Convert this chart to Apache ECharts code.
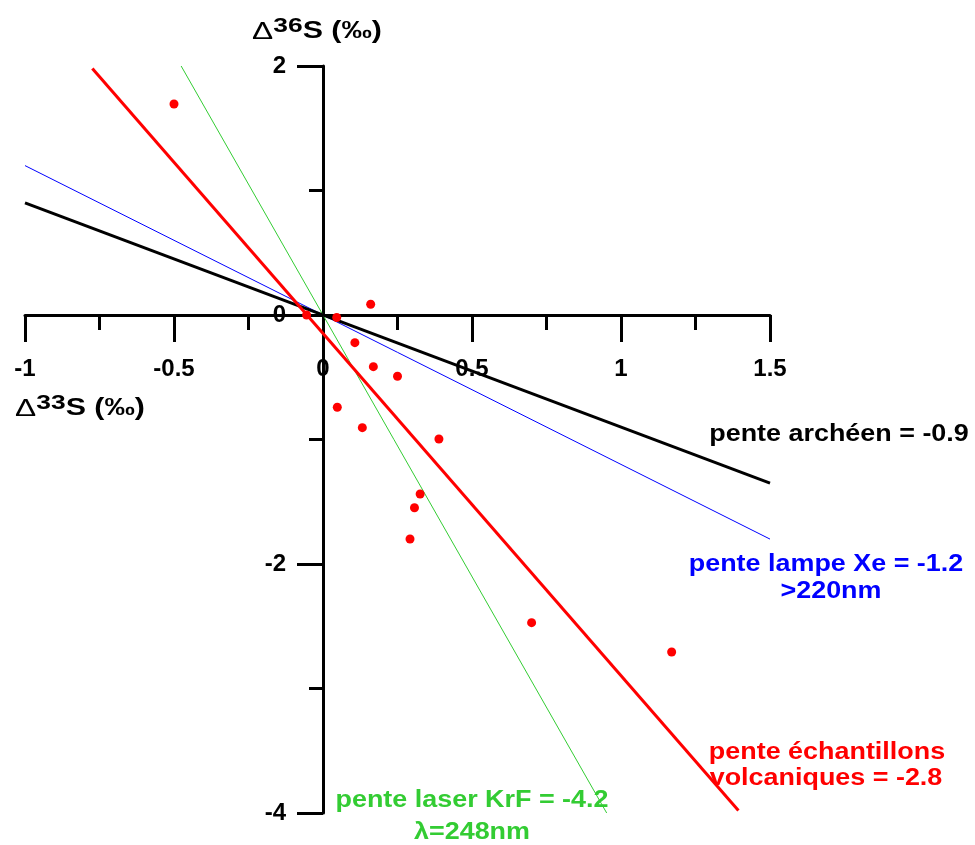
<!DOCTYPE html>
<html>
<head>
<meta charset="utf-8">
<script src="https://cdn.jsdelivr.net/npm/echarts@6/dist/echarts.min.js"></script>
<style>html,body{margin:0;padding:0;background:#fff}#c{width:975px;height:845px}</style>
</head>
<body>
<div id="c"></div>
<script>
// Samples: Δ33S (x) and Δ36S (y), ‰
const sampleD33 = [-0.50, -0.055, 0.046, 0.160, 0.107, 0.169, 0.250, 0.048, 0.132, 0.389, 0.326, 0.307, 0.292, 0.700, 1.170];
const sampleD36 = [1.695, 0.000, -0.020, 0.086, -0.222, -0.415, -0.492, -0.741, -0.905, -0.996, -1.438, -1.548, -1.799, -2.471, -2.707];

// Reference lines (end points)
const lineArchean = [[-1, 0.9], [1.5, -1.35]];
const lineXe = [[-1, 1.2], [1.5, -1.8]];
const lineKrF = [[-0.476, 2], [0.952, -4]];
const lineVolcanic = [[-0.774, 1.98], [1.394, -3.98]];

const xMin = -1, xMax = 1.5, xStep = 0.5;
const yMin = -4, yMax = 2, yStep = 2;

const FONT = 'Liberation Sans';
const W = 975, H = 845;
const G = {left: 25, right: 205, top: 66, bottom: 32};
// put each axis through the other axis' zero
const gridW = W - G.left - G.right, gridH = H - G.top - G.bottom;
const xAxisOffset = -Math.round(gridH * (0 - yMin) / (yMax - yMin));
const yAxisOffset = -Math.round(gridW * (0 - xMin) / (xMax - xMin));

const chart = echarts.init(document.getElementById('c'));

function lineSeries(name, pts, color, width) {
  return {
    name: name, type: 'line', data: pts, showSymbol: false, symbol: 'none',
    lineStyle: {color: color, width: width}, silent: true, z: 2
  };
}
function ann(text, x, y, color) {
  return {
    type: 'text', x: x, y: y, scaleX: 1.17, z: 100,
    style: {text: text, fill: color, fontSize: 23, fontWeight: 'bold', fontFamily: FONT,
            align: 'center', verticalAlign: 'middle'}
  };
}
function axisTitle(sup, x, y) {
  return {
    type: 'text', x: x, y: y, scaleX: 1.32, z: 100,
    style: {
      text: '{d|Δ}{s|' + sup + '}{b|S (‰)}',
      align: 'center', verticalAlign: 'middle',
      rich: {
        d: {fontSize: 24, fontFamily: FONT, fill: '#000', lineHeight: 32, verticalAlign: 'middle'},
        s: {fontSize: 20, fontWeight: 'bold', fontFamily: FONT, fill: '#000', lineHeight: 14, verticalAlign: 'top'},
        b: {fontSize: 23, fontWeight: 'bold', fontFamily: FONT, fill: '#000', lineHeight: 32, verticalAlign: 'middle'}
      }
    }
  };
}

const labelStyle = {show: true, color: '#000', fontSize: 24, fontWeight: 'bold', fontFamily: FONT};

chart.setOption({
  animation: false,
  backgroundColor: '#fff',
  grid: {left: G.left, right: G.right, top: G.top, bottom: G.bottom, containLabel: false, outerBoundsMode: 'none'},
  xAxis: {
    type: 'value', min: xMin, max: xMax, interval: xStep,
    position: 'bottom', offset: xAxisOffset,
    axisLine: {show: true, onZero: false, lineStyle: {color: '#000', width: 3}},
    axisTick: {show: true, length: 27, lineStyle: {color: '#000', width: 3}},
    minorTick: {show: true, splitNumber: 2, length: 15, lineStyle: {color: '#000', width: 3}},
    splitLine: {show: false},
    axisLabel: Object.assign({}, labelStyle, {margin: 42})
  },
  yAxis: {
    type: 'value', min: yMin, max: yMax, interval: yStep,
    position: 'left', offset: yAxisOffset,
    axisLine: {show: true, onZero: false, lineStyle: {color: '#000', width: 3}},
    axisTick: {show: true, length: 26, lineStyle: {color: '#000', width: 3}},
    minorTick: {show: true, splitNumber: 2, length: 14, lineStyle: {color: '#000', width: 3}},
    splitLine: {show: false},
    axisLabel: Object.assign({}, labelStyle, {margin: 37})
  },
  series: [
    lineSeries('Xe', lineXe, '#0000ff', 1),
    lineSeries('KrF', lineKrF, '#33cc33', 1),
    lineSeries('archéen', lineArchean, '#000000', 3),
    lineSeries('volcaniques', lineVolcanic, '#ff0000', 3),
    {
      name: 'échantillons', type: 'scatter', symbol: 'circle', symbolSize: 9,
      data: sampleD33.map((v, i) => [v, sampleD36[i]]),
      itemStyle: {color: '#ff0000', opacity: 1}, z: 5
    }
  ],
  graphic: [
    axisTitle('36', 317, 32),
    axisTitle('33', 80, 409),
    ann('pente archéen = -0.9', 839, 435, '#000000'),
    ann('pente lampe Xe = -1.2', 826, 565, '#0000ff'),
    ann('>220nm', 831, 592, '#0000ff'),
    ann('pente échantillons', 827, 753, '#ff0000'),
    ann('volcaniques = -2.8', 826, 779, '#ff0000'),
    ann('pente laser KrF = -4.2', 472, 801, '#33cc33'),
    ann('λ=248nm', 472, 833, '#33cc33')
  ]
});
</script>
</body>
</html>
